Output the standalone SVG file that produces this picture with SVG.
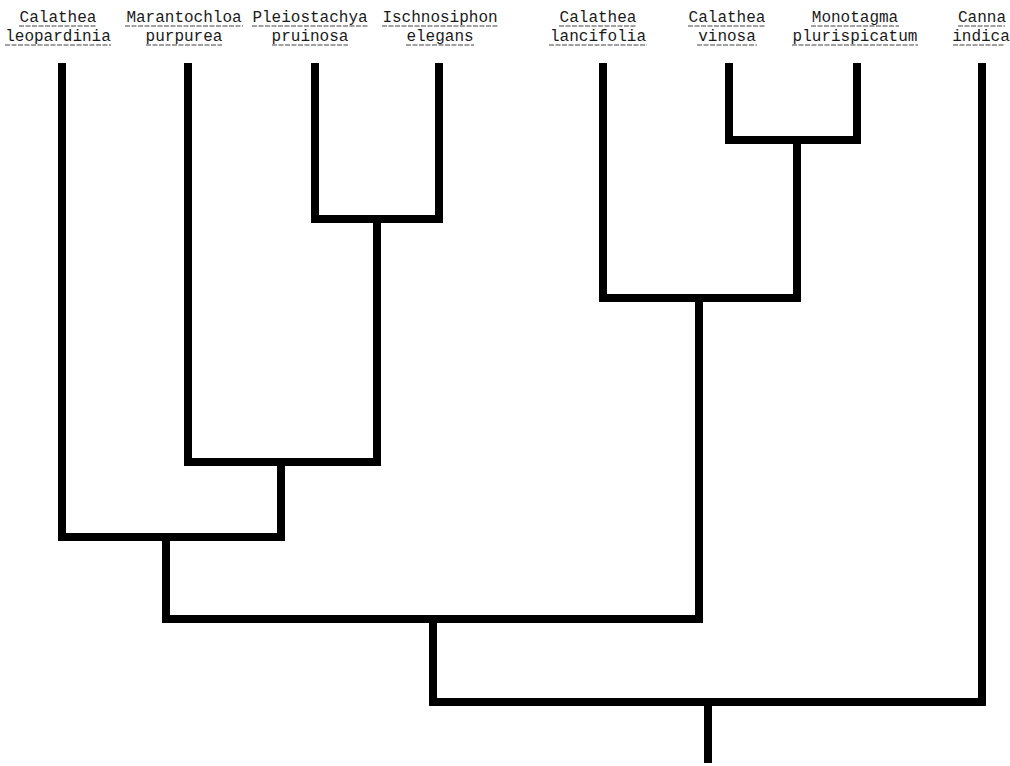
<svg xmlns="http://www.w3.org/2000/svg" width="1010" height="766" viewBox="0 0 1010 766">
<style>
.lbl{font-family:"Liberation Mono","DejaVu Sans Mono",monospace;font-size:16px;fill:#1a1a1a;text-anchor:middle}
.ul{stroke:#444;stroke-width:1.2;stroke-dasharray:5 1.5;fill:none}
.br{fill:none;stroke:#000;stroke-width:8;stroke-linejoin:miter;stroke-linecap:butt}
</style>
<rect width="1010" height="766" fill="#fff"/>
<g id="leaf-calathea-leopardinia">
<text class="lbl" x="58" y="22">Calathea</text><text class="lbl" x="58" y="41">leopardinia</text>
<path class="ul" d="M19,26H97M5,45H111"/>
</g>
<g id="leaf-marantochloa-purpurea">
<text class="lbl" x="184" y="22">Marantochloa</text><text class="lbl" x="184" y="41">purpurea</text>
<path class="ul" d="M125,26H243M146,45H222"/>
</g>
<g id="leaf-pleiostachya-pruinosa">
<text class="lbl" x="310" y="22">Pleiostachya</text><text class="lbl" x="310" y="41">pruinosa</text>
<path class="ul" d="M252,26H368M272,45H348"/>
</g>
<g id="leaf-ischnosiphon-elegans">
<text class="lbl" x="440" y="22">Ischnosiphon</text><text class="lbl" x="440" y="41">elegans</text>
<path class="ul" d="M382,26H498M406,45H474"/>
</g>
<g id="leaf-calathea-lancifolia">
<text class="lbl" x="598" y="22">Calathea</text><text class="lbl" x="598" y="41">lancifolia</text>
<path class="ul" d="M559,26H637M549,45H647"/>
</g>
<g id="leaf-calathea-vinosa">
<text class="lbl" x="727" y="22">Calathea</text><text class="lbl" x="727" y="41">vinosa</text>
<path class="ul" d="M688,26H766M697,45H757"/>
</g>
<g id="leaf-monotagma-plurispicatum">
<text class="lbl" x="855" y="22">Monotagma</text><text class="lbl" x="855" y="41">plurispicatum</text>
<path class="ul" d="M811,26H899M792,45H918"/>
</g>
<g id="leaf-canna-indica">
<text class="lbl" x="982" y="22">Canna</text><text class="lbl" x="981" y="41">indica</text>
<path class="ul" d="M958,26H1005M953,45H1005"/>
</g>
<g id="connectors">
<path class="br" d="M315,63V219H439V63"/>
<path class="br" d="M188,63V462H377V219"/>
<path class="br" d="M62,63V537H281V462"/>
<path class="br" d="M729,63V140H857V63"/>
<path class="br" d="M603,63V298H797V140"/>
<path class="br" d="M166,537V619H699V298"/>
<path class="br" d="M433,619V702H982V63"/>
<path class="br" d="M708,702V763"/>
</g>
</svg>
